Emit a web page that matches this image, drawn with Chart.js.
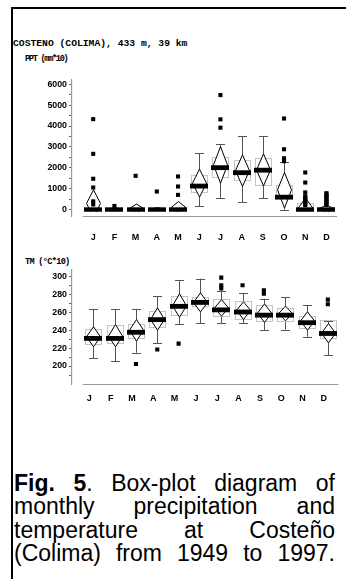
<!DOCTYPE html>
<html><head><meta charset="utf-8">
<script src="https://cdn.jsdelivr.net/npm/chart.js@4"></script>
<style>
html,body{margin:0;padding:0;background:#fff;width:346px;height:579px;overflow:hidden;}
#frame{position:absolute;left:11px;top:7px;width:335px;height:572px;border-left:2px solid #000;border-top:2px solid #000;box-sizing:border-box;}
.lbl{position:absolute;font-family:"Liberation Mono","Courier New",monospace;font-weight:bold;color:#000;white-space:nowrap;line-height:1;}
#title{left:13px;top:38.5px;font-size:9.7px;}
#ppt{left:25px;top:55px;font-size:8.6px;letter-spacing:-1.3px;}
#tm{left:25px;top:257.5px;font-size:8.6px;letter-spacing:-0.7px;}
canvas{position:absolute;left:0;}
#c1{top:0;}
#c2{top:250px;}
#cap{position:absolute;left:14px;top:472px;width:321px;font-family:"Liberation Sans",Arial,sans-serif;font-size:23px;line-height:23.3px;color:#000;}
#cap div{text-align:justify;text-align-last:justify;white-space:nowrap;}
</style></head>
<body>
<div id="frame"></div>
<div class="lbl" id="title">COSTENO (COLIMA), 433 m, 39 km</div>
<div class="lbl" id="ppt">PPT (mm*10)</div>
<div class="lbl" id="tm">TM (°C*10)</div>
<canvas id="c1" width="346" height="250"></canvas>
<canvas id="c2" width="346" height="160"></canvas>
<div id="cap">
<div><b>Fig. 5</b>. Box-plot diagram of</div>
<div>monthly precipitation and</div>
<div>temperature at Costeño</div>
<div>(Colima) from 1949 to 1997.</div>
</div>
<script>
// ---------- categories & tick labels ----------
const months = ['J','F','M','A','M','J','J','A','S','O','N','D'];
const pptTickLabels = [0,1000,2000,3000,4000,5000,6000];
const pptAllTicks = [0,500,1000,1500,2000,2500,3000,3500,4000,4500,5000,5500,6000];
const tmTickLabels = [200,220,240,260,280,300];
const tmAllTicks = [190,200,210,220,230,240,250,260,270,280,290,300];

// ---------- precipitation (mm*10) ----------
const pptWhiskerLow  = [0,0,0,0,0,160,555,365,555,0,0,0];
const pptWhiskerHigh = [0,0,0,0,0,2700,3140,3520,3520,2300,0,0];
const pptQ1          = [0,0,0,0,0,850,1590,1430,1190,555,0,0];
const pptQ3          = [100,0,50,0,100,1650,2540,2380,2460,1190,320,150];
const pptMedian      = [0,0,0,0,0,1130,2010,1770,1890,600,0,0];
const pptMeanLow     = [-350,-60,-150,-40,-150,605,1270,1110,1140,80,-350,-140];
const pptMean        = [300,20,60,30,120,1270,2140,1870,1900,950,100,50];
const pptMeanHigh    = [950,100,270,100,390,1937,3015,2620,2670,1780,555,240];
const pptOutliers    = [
  [4330,2670,1480,1060,400,250],[180],[1620],[870],[1590,1110,710],[],
  [5480,4320,3920],[],[],[4360,2890,2460,2320],
  [1780,1300,825,640,570,500,430,360,290,220],
  [790,720,650,580,510,440,370,300,230]
];

// ---------- mean temperature (°C*10) ----------
const tmWhiskerLow  = [208.5,205.6,214.8,225.2,247,247.4,247.4,247.4,240,240.7,232.6,212.2];
const tmWhiskerHigh = [263.7,263,263.7,278,296,297.4,284,281.5,275,277,267.8,250];
const tmQ1          = [224,225,230.8,243.7,257,266.7,255.6,252,250,251.1,243,230.8];
const tmQ3          = [241,245.6,246.3,261,278,277,275,272,268,265.2,256,251];
const tmMedian      = [230.8,230.8,237.6,251.7,266.5,270.9,262.6,260.2,256.7,256.7,248.3,236.3];
const tmMeanLow     = [221.5,221.5,227.8,240,254.5,260.4,255.6,251.8,248.6,250.4,240,225.9];
const tmMean        = [232.6,233.3,240,251.8,267,270.7,264.8,262.2,259,258.5,250.2,236.5];
const tmMeanHigh    = [243.7,246.3,251.8,264.8,280.5,281.5,274,271.5,269.2,266.7,260.4,247.4];
const tmOutliers    = [[],[],[202.2],[218.5],[225],[],[298.5,290,286.5],[290],[284.4,280.5],[],[],[274,268.9]];

function outlierPoints(out){
  const pts=[];
  out.forEach((arr,i)=>arr.forEach(v=>pts.push({x:i+1,y:v})));
  return pts;
}

function boxPlugin(d){
  return {
    id:'boxes',
    beforeDatasetsDraw(chart){
      const {ctx, chartArea:a, scales:{x,y}} = chart;
      ctx.save();
      ctx.strokeStyle='#9a9a9a'; ctx.lineWidth=1.2;
      ctx.beginPath();
      ctx.moveTo(x.getPixelForValue(0.5), a.bottom+0.5);
      ctx.lineTo(x.getPixelForValue(12.5), a.bottom+0.5);
      ctx.stroke();
      ctx.beginPath();
      ctx.rect(a.left, a.top-2, a.right-a.left, y.getPixelForValue(d.clipMin)-a.top+2);
      ctx.clip();
      for(let i=0;i<12;i++){
        const cx = Math.round(x.getPixelForValue(i+1))+0.5;
        const yLo=y.getPixelForValue(d.wl[i]), yHi=y.getPixelForValue(d.wh[i]);
        ctx.strokeStyle='#555'; ctx.lineWidth=1;
        ctx.beginPath();
        ctx.moveTo(cx,yLo); ctx.lineTo(cx,yHi);
        ctx.moveTo(cx-4.5,Math.round(yLo)+0.5); ctx.lineTo(cx+4.5,Math.round(yLo)+0.5);
        ctx.moveTo(cx-4.5,Math.round(yHi)+0.5); ctx.lineTo(cx+4.5,Math.round(yHi)+0.5);
        ctx.stroke();
        const q1=y.getPixelForValue(d.q1[i]), q3=y.getPixelForValue(d.q3[i]);
        ctx.strokeStyle='#c4c4c4';
        ctx.strokeRect(cx-8, Math.round(q3)+0.5, 16, Math.round(q1-q3));
        const mL=y.getPixelForValue(d.ml[i]), m=y.getPixelForValue(d.m[i]), mH=y.getPixelForValue(d.mh[i]);
        ctx.beginPath();
        ctx.moveTo(cx,mH); ctx.lineTo(cx+7,m); ctx.lineTo(cx,mL); ctx.lineTo(cx-7,m); ctx.closePath();
        ctx.fillStyle='#fff'; ctx.fill();
        ctx.strokeStyle='#000'; ctx.lineWidth=1; ctx.stroke();
        const md=y.getPixelForValue(d.med[i]);
        ctx.fillStyle='#000';
        ctx.fillRect(cx-9.5, md-2.4, 18, 4.8);
      }
      ctx.restore();
    }
  };
}

function makeChart(id, cfg){
  const tickFont={family:'"Liberation Sans", Arial, sans-serif', weight:'bold', size:8.8};
  return new Chart(document.getElementById(id),{
    type:'scatter',
    data:{datasets:[{
      data: outlierPoints(cfg.out),
      pointStyle:'rect', pointRadius:2.9, pointHoverRadius:2.9,
      backgroundColor:'#000', borderColor:'#000', borderWidth:0
    }]},
    options:{
      responsive:false, animation:false, events:[],
      layout:{padding:{top:cfg.padTop,right:7.5,left:0,bottom:0}},
      plugins:{legend:{display:false},tooltip:{enabled:false}},
      scales:{
        x:{type:'linear',min:0,max:12.5,
          afterBuildTicks:s=>{s.ticks=months.map((m,i)=>({value:i+1}));},
          afterFit:s=>{s.height=cfg.xHeight;},
          grid:{display:false,drawTicks:false}, border:{display:false},
          ticks:{callback:v=>months[v-1], autoSkip:false, maxRotation:0, padding:cfg.xPad,
            labelOffset:cfg.xOff, color:'#000',
            font:{family:'"Liberation Sans", Arial, sans-serif', weight:'bold', size:9}}
        },
        y:{type:'linear',min:cfg.min,max:cfg.max,
          afterBuildTicks:s=>{s.ticks=cfg.allTicks.map(v=>({value:v}));},
          afterFit:s=>{s.width=72;},
          grid:{drawOnChartArea:false,drawTicks:true,tickLength:3,color:'#666'},
          border:{display:true,color:'#9a9a9a',width:1.2},
          ticks:{autoSkip:false,padding:2,color:'#000',font:tickFont,
            callback:v=>cfg.labels.includes(v)?String(v):''}
        }
      }
    },
    plugins:[boxPlugin(cfg.d)]
  });
}

makeChart('c1',{
  padTop:80, xHeight:34, xPad:16, xOff:0, min:-300, max:6200,
  allTicks:pptAllTicks, labels:pptTickLabels, out:pptOutliers,
  d:{wl:pptWhiskerLow,wh:pptWhiskerHigh,q1:pptQ1,q3:pptQ3,med:pptMedian,ml:pptMeanLow,m:pptMean,mh:pptMeanHigh,clipMin:-100}
});
makeChart('c2',{
  padTop:20, xHeight:26, xPad:9, xOff:-4, min:180, max:307,
  allTicks:tmAllTicks, labels:tmTickLabels, out:tmOutliers,
  d:{wl:tmWhiskerLow,wh:tmWhiskerHigh,q1:tmQ1,q3:tmQ3,med:tmMedian,ml:tmMeanLow,m:tmMean,mh:tmMeanHigh,clipMin:180}
});
</script>
</body></html>
